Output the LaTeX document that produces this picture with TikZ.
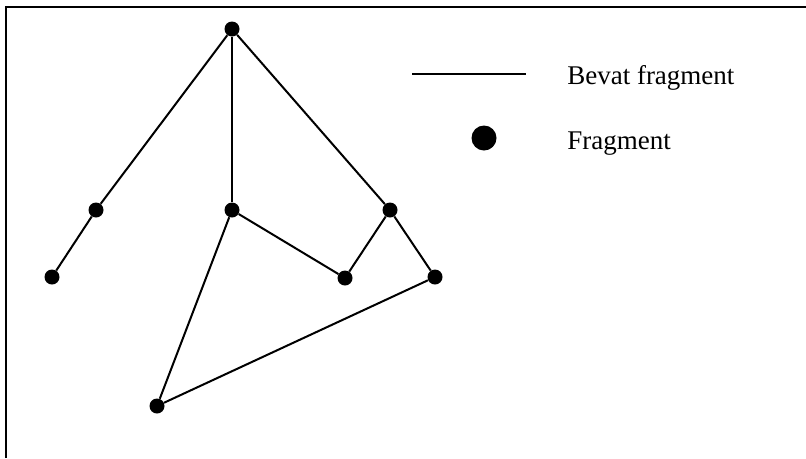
\documentclass[tikz,border=0pt]{standalone}
\usepackage{fontspec}
\setmainfont{Liberation Serif}
\usepackage{tikz}
\usetikzlibrary{positioning}

\begin{document}
\begin{tikzpicture}[x=0.75pt,y=-0.75pt,
      nd/.style={circle,fill=black,minimum size=11.25pt,inner sep=0pt},
      big/.style={circle,fill=black,minimum size=18.75pt,inner sep=0pt},
      lbl/.style={anchor=base west,inner sep=0pt,font=\fontsize{20.25}{24}\selectfont}]
    \useasboundingbox (0,0) rectangle (806,458);
    \draw[line width=2pt] (6,458) -- (6,7) -- (806,7);
    % fragments
    \node[nd] (top) at (232,29) {};
    \node[nd] (ml) at (96,210) {};
    \node[nd] (ll) at (52,277) {};
    \node[nd] (mc) at (232,210) {};
    \node[nd] (mr) at (390,210) {};
    \node[nd] (lc) at (345,278) {};
    \node[nd] (lr) at (435,277) {};
    \node[nd] (bot) at (157,406) {};
    \foreach \a/\b in {top/ml,ml/ll,top/mc,top/mr,mc/lc,lc/mr,mr/lr,mc/bot,bot/lr}
      \draw[line width=1.5pt] (\a) -- (\b);
    % legend
    \coordinate (la) at (412,74);
    \coordinate (lb) at (526,74);
    \draw[line width=1.5pt] (la) -- (lb);
    \node[lbl] (t1) at (567,84) {Bevat fragment};
    \node[big] (dot) at (484,138) {};
    \node[lbl] (t2) at (567,149) {Fragment};
  \end{tikzpicture}
\end{document}
